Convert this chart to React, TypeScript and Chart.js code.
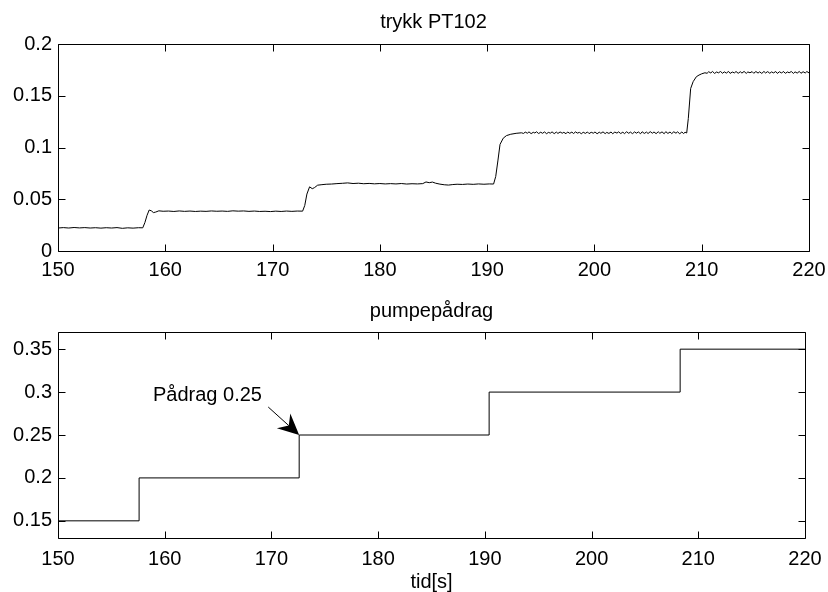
import React, { useEffect, useRef } from 'react';
import { Chart, registerables } from 'chart.js';

Chart.register(...registerables);

const FONT = '"Liberation Sans", Arial, Helvetica, sans-serif';

// ---------- data ----------
const xTickValues = [150, 160, 170, 180, 190, 200, 210, 220];
const pressureTickValues = [0, 0.05, 0.1, 0.15, 0.2];
const pumpTickValues = [0.15, 0.2, 0.25, 0.3, 0.35];

const pressureTitle = 'trykk PT102';
const pumpTitle = 'pumpepådrag';
const timeAxisLabel = 'tid[s]';

// [time s, pressure]
const pressureSamples: [number, number][] = [
  [150.0, 0.0222], [150.5, 0.0226], [151.0, 0.0222], [151.5, 0.0227], [152.0, 0.0223], [152.5, 0.0226],
  [153.0, 0.0222], [153.5, 0.0225], [154.0, 0.0221], [154.5, 0.0225], [155.0, 0.0222], [155.5, 0.0226],
  [156.0, 0.0219], [156.5, 0.0224], [157.0, 0.0221], [157.5, 0.0225], [157.9, 0.0224],
  [158.1, 0.0275], [158.3, 0.0345], [158.5, 0.0396], [158.7, 0.0388], [158.9, 0.0371], [159.1, 0.0376],
  [159.4, 0.0388], [159.8, 0.0384],
  [160.3, 0.0386], [160.8, 0.0382], [161.3, 0.0387], [161.8, 0.0383], [162.3, 0.0386], [162.8, 0.0382],
  [163.3, 0.0385], [163.8, 0.0383], [164.3, 0.0387], [164.8, 0.0384], [165.3, 0.0386], [165.8, 0.0383],
  [166.3, 0.0388], [166.8, 0.0385], [167.3, 0.0387], [167.8, 0.0383], [168.3, 0.0386], [168.8, 0.0382],
  [169.3, 0.0384], [169.8, 0.0381], [170.3, 0.0385], [170.8, 0.0382], [171.3, 0.0386], [171.8, 0.0383],
  [172.3, 0.0386], [172.8, 0.0385],
  [173.0, 0.0440], [173.2, 0.0550], [173.45, 0.0620], [173.7, 0.0602], [173.9, 0.0612], [174.2, 0.0636],
  [174.6, 0.0641], [175.0, 0.0645], [175.5, 0.0647], [176.0, 0.0651], [176.5, 0.0654], [177.0, 0.0658],
  [177.5, 0.0652], [178.0, 0.0655], [178.5, 0.0650], [179.0, 0.0653], [179.5, 0.0649], [180.0, 0.0652],
  [180.5, 0.0648], [181.0, 0.0651], [181.5, 0.0648], [182.0, 0.0652], [182.5, 0.0647], [183.0, 0.0650],
  [183.5, 0.0648], [184.0, 0.0651], [184.3, 0.0667], [184.6, 0.0660], [184.9, 0.0666], [185.2, 0.0655],
  [185.6, 0.0646], [186.0, 0.0640], [186.4, 0.0637], [186.8, 0.0642], [187.2, 0.0645], [187.7, 0.0643],
  [188.2, 0.0647], [188.7, 0.0644], [189.2, 0.0648], [189.7, 0.0645], [190.2, 0.0648], [190.6, 0.0647],
  [190.8, 0.0720], [191.0, 0.0870], [191.2, 0.1030], [191.5, 0.1090], [191.8, 0.1115], [192.2, 0.1128],
  [192.7, 0.1137], [193.2, 0.1142],
  [193.4, 0.1136], [193.55, 0.1149], [193.75, 0.1138], [193.9, 0.1151], [194.1, 0.1134], [194.3, 0.1147],
  [194.45, 0.1140], [194.6, 0.1152], [194.8, 0.1135], [195.0, 0.1148], [195.15, 0.1137], [195.35, 0.1150],
  [195.55, 0.1133], [195.7, 0.1146], [195.9, 0.1139], [196.05, 0.1151], [196.25, 0.1134], [196.45, 0.1149],
  [196.6, 0.1136], [196.8, 0.1150], [197.0, 0.1138], [197.15, 0.1147], [197.35, 0.1133], [197.5, 0.1150],
  [197.7, 0.1137], [197.9, 0.1149], [198.05, 0.1135], [198.25, 0.1151], [198.4, 0.1139], [198.6, 0.1146],
  [198.8, 0.1132], [198.95, 0.1149], [199.15, 0.1136], [199.35, 0.1150], [199.5, 0.1134], [199.7, 0.1147],
  [199.9, 0.1138], [200.05, 0.1150], [200.25, 0.1133], [200.45, 0.1148], [200.6, 0.1137], [200.8, 0.1151],
  [201.0, 0.1134], [201.15, 0.1146], [201.35, 0.1136], [201.55, 0.1150], [201.7, 0.1133], [201.9, 0.1149],
  [202.1, 0.1139], [202.25, 0.1151], [202.45, 0.1135], [202.65, 0.1148], [202.8, 0.1134], [203.0, 0.1152],
  [203.2, 0.1137], [203.35, 0.1149], [203.55, 0.1134], [203.75, 0.1151], [203.9, 0.1138], [204.1, 0.1150],
  [204.3, 0.1133], [204.45, 0.1152], [204.65, 0.1136], [204.85, 0.1149], [205.0, 0.1135], [205.2, 0.1153],
  [205.4, 0.1138], [205.55, 0.1150], [205.75, 0.1134], [205.95, 0.1152], [206.1, 0.1137], [206.3, 0.1151],
  [206.5, 0.1133], [206.65, 0.1153], [206.85, 0.1136], [207.05, 0.1150], [207.2, 0.1134], [207.4, 0.1152],
  [207.6, 0.1138], [207.75, 0.1151], [207.95, 0.1133], [208.15, 0.1150], [208.3, 0.1135], [208.45, 0.1147],
  [208.6, 0.1140], [208.75, 0.1280], [208.97, 0.1570], [209.2, 0.1636], [209.5, 0.1684], [209.75, 0.1700],
  [210.0, 0.1712], [210.3, 0.1722],
  [210.5, 0.1717], [210.65, 0.1732], [210.85, 0.1720], [211.0, 0.1735], [211.2, 0.1716], [211.4, 0.1730],
  [211.55, 0.1721], [211.75, 0.1734], [211.95, 0.1717], [212.1, 0.1731], [212.3, 0.1719], [212.5, 0.1735],
  [212.65, 0.1716], [212.85, 0.1729], [213.05, 0.1721], [213.2, 0.1734], [213.4, 0.1717], [213.6, 0.1732],
  [213.75, 0.1719], [213.95, 0.1735], [214.15, 0.1716], [214.3, 0.1730], [214.5, 0.1722], [214.7, 0.1733],
  [214.85, 0.1717], [215.05, 0.1734], [215.25, 0.1719], [215.4, 0.1731], [215.6, 0.1716], [215.8, 0.1735],
  [215.95, 0.1720], [216.15, 0.1733], [216.35, 0.1717], [216.5, 0.1730], [216.7, 0.1721], [216.9, 0.1734],
  [217.05, 0.1716], [217.25, 0.1732], [217.45, 0.1719], [217.6, 0.1735], [217.8, 0.1717], [218.0, 0.1730],
  [218.15, 0.1722], [218.35, 0.1734], [218.55, 0.1716], [218.7, 0.1731], [218.9, 0.1719], [219.1, 0.1735],
  [219.25, 0.1717], [219.45, 0.1732], [219.65, 0.1720], [219.8, 0.1734], [220.0, 0.1721],
];

// step times (s) and the pump command that starts at each time
const pumpStepTimes = [150, 157.6, 172.6, 190.4, 208.3, 220];
const pumpStepValues = [0.15, 0.2, 0.25, 0.3, 0.35, 0.35];

const annotationText = 'Pådrag 0.25';
const annotationTip: [number, number] = [172.6, 0.25];
const annotationTail: [number, number] = [169.7, 0.2826];
const annotationTextAnchor: [number, number] = [158.9, 0.2896];

// ---------- helpers ----------
const TICK_LEN = 7;

function framePlugin(title: string, titleBaseline: number, xLabel?: string, xLabelBaseline?: number) {
  return {
    id: 'matlabFrame',
    afterDatasetsDraw(chart: any) {
      const { ctx, chartArea, scales } = chart;
      const { left, right, top, bottom } = chartArea;
      const L = Math.round(left) + 0.5;
      const R = Math.round(right) + 0.5;
      const T = Math.round(top) + 0.5;
      const B = Math.round(bottom) + 0.5;
      ctx.save();
      ctx.strokeStyle = '#000';
      ctx.lineWidth = 1;
      ctx.beginPath();
      ctx.rect(L, T, R - L, B - T);
      scales.x.ticks.forEach((t: any) => {
        const px = Math.round(scales.x.getPixelForValue(t.value)) + 0.5;
        ctx.moveTo(px, B);
        ctx.lineTo(px, B - TICK_LEN);
        ctx.moveTo(px, T);
        ctx.lineTo(px, T + TICK_LEN);
      });
      scales.y.ticks.forEach((t: any) => {
        const py = Math.round(scales.y.getPixelForValue(t.value)) + 0.5;
        ctx.moveTo(L, py);
        ctx.lineTo(L + TICK_LEN, py);
        ctx.moveTo(R, py);
        ctx.lineTo(R - TICK_LEN, py);
      });
      ctx.stroke();

      ctx.fillStyle = '#000';
      ctx.font = `20px ${FONT}`;
      ctx.textAlign = 'center';
      ctx.textBaseline = 'alphabetic';
      const cx = (left + right) / 2;
      ctx.fillText(title, cx, titleBaseline);
      if (xLabel && xLabelBaseline !== undefined) {
        ctx.fillText(xLabel, cx, xLabelBaseline);
      }
      ctx.restore();
    },
  };
}

const arrowPlugin = {
  id: 'arrowAnnotation',
  afterDatasetsDraw(chart: any) {
    const { ctx, scales } = chart;
    const { x, y } = scales;
    const tip = { x: x.getPixelForValue(annotationTip[0]), y: y.getPixelForValue(annotationTip[1]) };
    const tail = { x: x.getPixelForValue(annotationTail[0]), y: y.getPixelForValue(annotationTail[1]) };
    const dx = tip.x - tail.x;
    const dy = tip.y - tail.y;
    const len = Math.hypot(dx, dy);
    const ux = dx / len;
    const uy = dy / len;
    const nx = -uy;
    const ny = ux;
    const headLen = 21;
    const headHalf = 10;
    const notch = 14;
    ctx.save();
    ctx.strokeStyle = '#000';
    ctx.fillStyle = '#000';
    ctx.lineWidth = 1;
    ctx.beginPath();
    ctx.moveTo(tail.x, tail.y);
    ctx.lineTo(tip.x - ux * notch, tip.y - uy * notch);
    ctx.stroke();
    ctx.beginPath();
    ctx.moveTo(tip.x, tip.y);
    ctx.lineTo(tip.x - ux * headLen + nx * headHalf, tip.y - uy * headLen + ny * headHalf);
    ctx.lineTo(tip.x - ux * notch, tip.y - uy * notch);
    ctx.lineTo(tip.x - ux * headLen - nx * headHalf, tip.y - uy * headLen - ny * headHalf);
    ctx.closePath();
    ctx.fill();
    ctx.font = `20px ${FONT}`;
    ctx.textAlign = 'left';
    ctx.textBaseline = 'alphabetic';
    ctx.fillText(
      annotationText,
      x.getPixelForValue(annotationTextAnchor[0]),
      y.getPixelForValue(annotationTextAnchor[1])
    );
    ctx.restore();
  },
};

interface AxisSetup {
  yMin: number;
  yMax: number;
  yTicks: number[];
  yWidth: number;
  xHeight: number;
  xLabelPad: number;
}

function makeScales(s: AxisSetup) {
  const tickFont = { family: FONT, size: 20 };
  return {
    x: {
      type: 'linear',
      min: 150,
      max: 220,
      grid: { display: false, drawTicks: false },
      border: { display: false },
      afterBuildTicks: (axis: any) => {
        axis.ticks = xTickValues.map((v) => ({ value: v }));
      },
      afterFit: (axis: any) => {
        axis.height = s.xHeight;
        axis.paddingLeft = 0;
        axis.paddingRight = 0;
      },
      ticks: {
        font: tickFont,
        color: '#000',
        padding: s.xLabelPad,
        maxRotation: 0,
        autoSkip: false,
        callback: (v: any) => String(v),
      },
    },
    y: {
      type: 'linear',
      min: s.yMin,
      max: s.yMax,
      grid: { display: false, drawTicks: false },
      border: { display: false },
      afterBuildTicks: (axis: any) => {
        axis.ticks = s.yTicks.map((v) => ({ value: v }));
      },
      afterFit: (axis: any) => {
        axis.width = s.yWidth;
        axis.paddingTop = 0;
        axis.paddingBottom = 0;
      },
      ticks: {
        font: tickFont,
        color: '#000',
        padding: 6,
        autoSkip: false,
        callback: (v: any) => String(v),
      },
    },
  };
}

export default function App() {
  const topRef = useRef<HTMLCanvasElement | null>(null);
  const bottomRef = useRef<HTMLCanvasElement | null>(null);

  useEffect(() => {
    if (!topRef.current || !bottomRef.current) return;

    const topChart = new Chart(topRef.current, {
      type: 'line',
      data: {
        datasets: [
          {
            data: pressureSamples.map(([t, v]) => ({ x: t, y: v })),
            borderColor: '#000',
            borderWidth: 1,
            pointRadius: 0,
            tension: 0,
            fill: false,
          },
        ],
      },
      options: {
        responsive: false,
        animation: false,
        devicePixelRatio: 1,
        layout: { padding: { top: 44, right: 19, left: 0, bottom: 0 } },
        plugins: { legend: { display: false }, tooltip: { enabled: false }, title: { display: false } },
        scales: makeScales({
          yMin: 0,
          yMax: 0.2,
          yTicks: pressureTickValues,
          yWidth: 58,
          xHeight: 39,
          xLabelPad: 7,
        }) as any,
      },
      plugins: [framePlugin(pressureTitle, 28)],
    } as any);

    const bottomChart = new Chart(bottomRef.current, {
      type: 'line',
      data: {
        datasets: [
          {
            data: pumpStepTimes.map((t, i) => ({ x: t, y: pumpStepValues[i] })),
            borderColor: '#000',
            borderWidth: 1,
            pointRadius: 0,
            stepped: 'before',
            fill: false,
          },
        ],
      },
      options: {
        responsive: false,
        animation: false,
        devicePixelRatio: 1,
        layout: { padding: { top: 42, right: 23, left: 0, bottom: 0 } },
        plugins: { legend: { display: false }, tooltip: { enabled: false }, title: { display: false } },
        scales: makeScales({
          yMin: 0.13,
          yMax: 0.37,
          yTicks: pumpTickValues,
          yWidth: 58,
          xHeight: 54,
          xLabelPad: 9,
        }) as any,
      },
      plugins: [framePlugin(pumpTitle, 27, timeAxisLabel, 298), arrowPlugin],
    } as any);

    return () => {
      topChart.destroy();
      bottomChart.destroy();
    };
  }, []);

  return (
    <div
      style={{
        position: 'fixed',
        left: 0,
        top: 0,
        width: 828,
        height: 592,
        background: '#fff',
      }}
    >
      <canvas
        ref={topRef}
        width={828}
        height={290}
        style={{ position: 'absolute', left: 0, top: 0, width: 828, height: 290 }}
      />
      <canvas
        ref={bottomRef}
        width={828}
        height={302}
        style={{ position: 'absolute', left: 0, top: 290, width: 828, height: 302 }}
      />
    </div>
  );
}
